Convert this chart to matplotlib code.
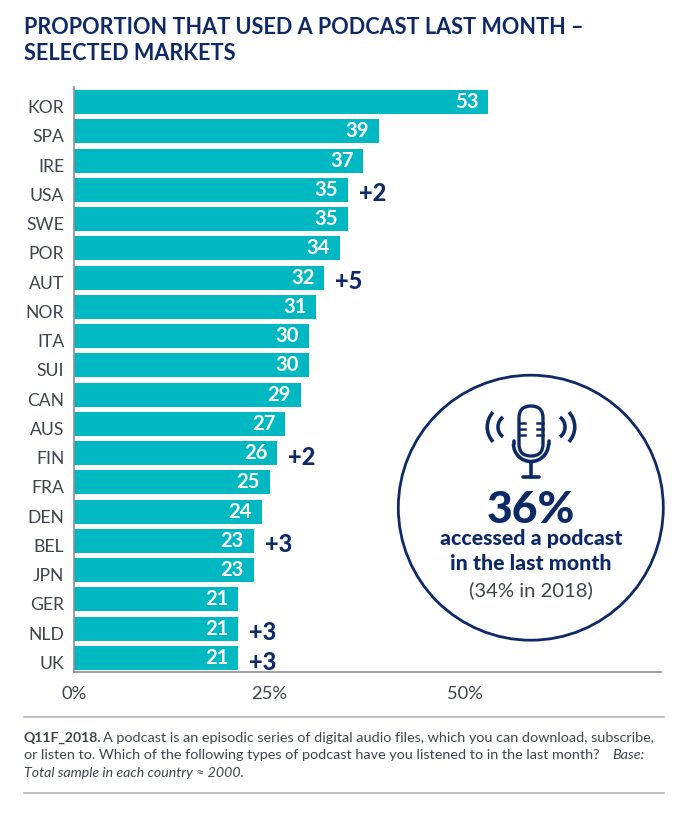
import matplotlib
matplotlib.use("Agg")
import matplotlib.pyplot as plt
from matplotlib.patches import Circle, Arc, FancyBboxPatch
from matplotlib.transforms import ScaledTranslation

countries = ["KOR","SPA","IRE","USA","SWE","POR","AUT","NOR","ITA","SUI","CAN","AUS","FIN","FRA","DEN","BEL","JPN","GER","NLD","UK"]
values = [53,39,37,35,35,34,32,31,30,30,29,27,26,25,24,23,23,21,21,21]
changes = {"USA":"+2","AUT":"+5","FIN":"+2","BEL":"+3","NLD":"+3","UK":"+3"}
xticks = [0,25,50]
xticklabels = ["0%","25%","50%"]

TEAL="#00B8C1"; NAVY="#0E2A66"; GREY="#3F4450"; AX="#8A8D93"; RULE="#B5B5B5"
W,H=695,814
plt.rcParams['font.family']=['Lato','DejaVu Sans']
fig=plt.figure(figsize=(W/100,H/100),dpi=100,facecolor="white")
L,R,T,B=74,661,87,672
ax=fig.add_axes([L/W,1-B/H,(R-L)/W,(B-T)/H])
ax.barh(range(len(values)),values,height=24/29.26,color=TEAL,linewidth=0,zorder=2)
ax.set_xlim(0,(R-L)/7.82)
ax.set_ylim((B-102)/29.26,(T-102)/29.26)
for s in ["top","right"]: ax.spines[s].set_visible(False)
for s in ["left","bottom"]:
    ax.spines[s].set_color(AX); ax.spines[s].set_linewidth(1.2)
ax.set_yticks(range(len(countries)),countries,fontsize=12.6,color=GREY)
ax.set_xticks(xticks,xticklabels,fontsize=13.2,color=GREY)
ax.tick_params(length=0)
ax.tick_params(axis='y',pad=7)
ax.tick_params(axis='x',pad=10)
shift=ScaledTranslation(0,-4.5/72*0.72*1.0,fig.dpi_scale_trans)
for lab in ax.get_yticklabels():
    lab.set_transform(lab.get_transform()+shift)
for i,(c,v) in enumerate(zip(countries,values)):
    ax.text(v-1.25,i+0.0,str(v),ha="right",va="center",color="white",fontsize=14.6,fontweight="bold")
    if c in changes:
        ax.text(v+1.4,i+0.14,changes[c],ha="left",va="center",color=NAVY,fontsize=17,fontweight="black")

ov=fig.add_axes([0,0,1,1],facecolor="none")
ov.set_xlim(0,W); ov.set_ylim(H,0); ov.axis("off")
ov.text(24,28,"PROPORTION THAT USED A PODCAST LAST MONTH –",fontsize=15.6,fontweight="bold",color=NAVY,va="center")
ov.text(24,53,"SELECTED MARKETS",fontsize=15.6,fontweight="bold",color=NAVY,va="center")

cx,cy=530.8,507.7
ov.add_patch(Circle((cx,cy),132.5,fc="white",ec=NAVY,lw=2,zorder=3))
mx=531
kw=dict(color=NAVY,lw=2.6,zorder=4,solid_capstyle="round")
ov.add_patch(FancyBboxPatch((mx-12,406),24,50,boxstyle="round,pad=0,rounding_size=12",fc="white",ec=NAVY,lw=2.4,zorder=4))
for y in (423,429,435):
    ov.plot([mx-12,mx-6],[y,y],color=NAVY,lw=1.8,zorder=5)
    ov.plot([mx+6,mx+12],[y,y],color=NAVY,lw=1.8,zorder=5)
ov.add_patch(Arc((mx,444),35,35,theta1=0,theta2=180,color=NAVY,lw=2.6,zorder=4))
ov.plot([mx-17.5,mx-17.5],[444,441],**kw); ov.plot([mx+17.5,mx+17.5],[444,441],**kw)
ov.plot([mx,mx],[462,477],**kw); ov.plot([mx-8,mx+8],[477,477],**kw)
ov.add_patch(Arc((510.5,427),25,25,theta1=180-53,theta2=180+53,color=NAVY,lw=2.6,zorder=4))
ov.add_patch(Arc((509,427),43.5,43.5,theta1=180-43,theta2=180+43,color=NAVY,lw=2.6,zorder=4))
ov.add_patch(Arc((552.5,427),25,25,theta1=-53,theta2=53,color=NAVY,lw=2.6,zorder=4))
ov.add_patch(Arc((553,427),43.5,43.5,theta1=-43,theta2=43,color=NAVY,lw=2.6,zorder=4))
ov.text(cx,510,"36%",ha="center",va="center",fontsize=32,fontweight="black",color=NAVY,zorder=5)
ov.text(cx,539,"accessed a podcast",ha="center",va="center",fontsize=15.4,fontweight="black",color=NAVY,zorder=5)
ov.text(cx,564,"in the last month",ha="center",va="center",fontsize=15.4,fontweight="black",color=NAVY,zorder=5)
ov.text(cx,590,"(34% in 2018)",ha="center",va="center",fontsize=14.6,color=GREY,zorder=5)

ov.plot([24,664],[717,717],color=RULE,lw=1.2)
ov.plot([24,664],[793,793],color=RULE,lw=1.2)
fs=10.4
ov.text(24,738,"Q11F_2018.",fontsize=10.1,fontweight="bold",color=GREY,va="center")
ov.text(103,738,"A podcast is an episodic series of digital audio files, which you can download, subscribe,",fontsize=fs,color=GREY,va="center")
ov.text(24,755,"or listen to. Which of the following types of podcast have you listened to in the last month?",fontsize=fs,color=GREY,va="center")
ov.text(612,755,"Base:",fontsize=fs,style="italic",color=GREY,va="center")
ov.text(24,773,"Total sample in each country ≈ 2000.",fontsize=10.2,style="italic",color=GREY,va="center")
fig.savefig("out.png",dpi=100,facecolor="white")
